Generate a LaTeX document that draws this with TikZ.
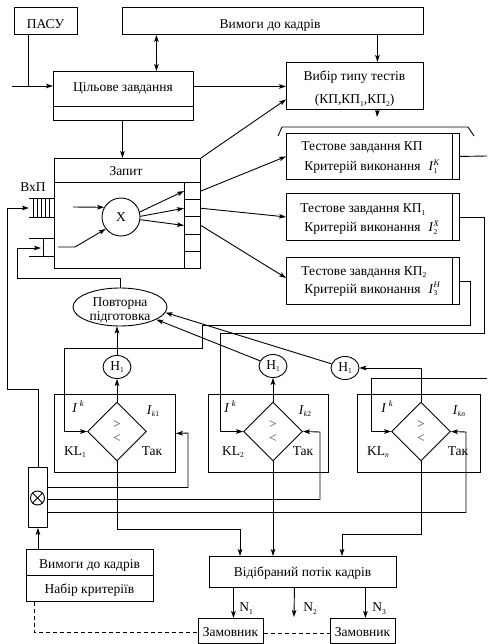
\documentclass[tikz,border=0pt]{standalone}
\usepackage{fontspec}
\setmainfont{Liberation Serif}
\usetikzlibrary{arrows.meta,shapes.geometric,calc}
\newcommand\fz{\fontsize{13.5}{15}\selectfont}
\newcommand\Ii{\textit{I}}
\newcommand\lsub[1]{\raisebox{-2.6pt}{\fontsize{7.5}{8}\selectfont #1}}
\newcommand\lsup[1]{\raisebox{5.2pt}{\fontsize{8.5}{9}\selectfont\itshape #1}}
\newcommand\Isb[2]{\Ii\rlap{\lsup{#1}}\lsub{#2}}
\begin{document}
\begin{tikzpicture}[x=1pt,y=-1pt,line width=0.9pt,
  >={Stealth[length=7pt,width=4.6pt,inset=1.6pt]},
  every node/.style={font=\fz},
  box/.style={draw,rectangle,inner sep=0pt,anchor=north west},
  tb/.style={inner sep=0pt,anchor=base},
  tbw/.style={inner sep=0pt,anchor=base west},
  hc/.style={draw,ellipse,minimum width=28pt,minimum height=23pt,inner sep=0pt},
  dia/.style={draw,diamond,minimum width=59pt,minimum height=59pt,inner sep=0pt},
  cell/.style={draw,rectangle,inner sep=0pt,anchor=north west,minimum width=16pt,minimum height=17.2pt},
  dsh/.style={dash pattern=on 4pt off 3pt}
]
\useasboundingbox (0,0) rectangle (487,644);

% ---------- top boxes
\node[box,minimum width=63pt,minimum height=27pt] (pasu) at (14,7) {};
\node[tb] at (45.5,29) {ПАСУ};
\node[box,minimum width=301pt,minimum height=27pt] (vym) at (122,7) {};
\node[tb] at (270,28.5) {Вимоги до кадрів};

\node[box,minimum width=140pt,minimum height=49pt] (cil) at (53,71) {};
\draw (53,106) -- (193,106);
\node[tb] at (123,92) {Цільове завдання};

\node[box,minimum width=137pt,minimum height=47pt] (vib) at (286,62) {};
\node[tb] at (354.5,80.5) {Вибір типу тестів};
\node[tb] at (354.5,104) {(КП,КП\lsub{1},КП\lsub{2})};

\draw (278,136) -- (282,127) -- (468,127) -- (474,136);

% ---------- test boxes
\node[box,minimum width=173pt,minimum height=46pt] (t1) at (286,133) {};
\draw (452,133) -- (452,179);
\node[tbw] at (301,151) {Тестове завдання КП};
\node[tbw] at (304,171) {Критерій виконання\hspace{8pt}\Isb{K}{1}};

\node[box,minimum width=173pt,minimum height=47pt] (t2) at (286,193) {};
\draw (452,193) -- (452,240);
\node[tbw] at (300,212.5) {Тестове завдання КП\lsub{1}};
\node[tbw] at (304,231.5) {Критерій виконання\hspace{8pt}\Isb{X}{2}};

\node[box,minimum width=173pt,minimum height=47pt] (t3) at (286,257) {};
\draw (452,257) -- (452,304);
\node[tbw] at (301,275) {Тестове завдання КП\lsub{2}};
\node[tbw] at (304,293) {Критерій виконання\hspace{8pt}\Isb{H}{3}};

% ---------- request block
\node[box,minimum width=146pt,minimum height=110pt] (zap) at (54,158) {};
\draw (54,182) -- (200,182);
\node[tb] at (126,176) {Запит};
\node[cell] (c1) at (184,182) {};
\node[cell] (c2) at (184,199.2) {};
\node[cell] (c3) at (184,216.4) {};
\node[cell] (c4) at (184,233.6) {};
\node[cell] (c5) at (184,250.8) {};
\node[draw,circle,minimum size=38pt,inner sep=0pt] (X) at (121,217) {X};

% queues
\node[tb] at (33,191.5) {ВхП};
\draw (29,198) -- (54,198) (29,217) -- (54,217);
\foreach \qx in {33.5,37.5,41.5,45.5,49.5} \draw (\qx,198) -- (\qx,217);
\draw (29,238) -- (54,238) (29,256) -- (54,256) (43,238) -- (43,256);
\coordinate (q1in) at (29,208);
\coordinate (q2in) at (41,248);

% ---------- repeat training
\node[draw,ellipse,minimum width=94pt,minimum height=38pt,inner sep=0pt] (povt) at (120,307) {};
\node[tb] at (120,306) {Повторна};
\node[tb] at (120,320.5) {підготовка};

% ---------- H circles
\node[hc] (h1) at (117,367) {H\lsub{1}};
\node[hc] (h2) at (273,366) {H\lsub{1}};
\node[hc] (h3) at (345,368) {H\lsub{1}};

% ---------- KL blocks
\node[box,minimum width=121pt,minimum height=78pt] (k1) at (54,394) {};
\node[box,minimum width=120pt,minimum height=78pt] (k2) at (208,394) {};
\node[box,minimum width=123pt,minimum height=78pt] (k3) at (357,394) {};
\node[dia] (d1) at (117,431.5) {};
\node[dia] (d2) at (273,431.5) {};
\node[dia] (d3) at (421,431.5) {};
\foreach \dx/\ix/\ia/\kx/\kl/\tx/\il in {117/78/153/75/{KL\lsub{1}}/152/{\Ii\lsub{\textit{k}1}},273/230/305/233/{KL\lsub{2}}/303/{\Ii\lsub{\textit{k}2}},421/387/459/378/{KL\lsub{\textit{n}}}/458/{\Ii\lsub{\textit{kn}}}}{
  \node[tb,text=black!75] at (\dx,428) {>};
  \node[tb,text=black!75] at (\dx,442) {<};
  \node[tb] at (\ix,412) {\Ii\,\lsup{k}};
  \node[tb] at (\ia,414) {\il};
  \node[tb] at (\kx,455) {\kl};
  \node[tb] at (\tx,455) {Так};
}

% ---------- multiplexer box
\node[box,minimum width=19pt,minimum height=60pt] (oxb) at (28,467) {};
\node[draw,circle,minimum size=14pt,inner sep=0pt] (ot) at (37.5,498) {};
\draw (ot.45) -- (ot.225) (ot.135) -- (ot.315);

% ---------- bottom boxes
\node[box,minimum width=127pt,minimum height=52pt] (vn) at (26,549) {};
\draw (26,575) -- (153,575);
\node[tb] at (89.5,568) {Вимоги до кадрів};
\node[tb] at (89.5,593) {Набір критеріїв};

\node[box,minimum width=187pt,minimum height=31pt] (otb) at (209,556) {};
\node[tb] at (302.5,576.5) {Відібраний потік кадрів};

\node[box,minimum width=65pt,minimum height=24.5pt] (zam1) at (198,618) {};
\node[tb] at (230.5,636.5) {Замовник};
\node[box,minimum width=65pt,minimum height=24.5pt] (zam2) at (330,618) {};
\node[tb] at (362.5,636.5) {Замовник};

% ---------- connectors: top
\coordinate (in0) at (12,86);
\draw[->] (in0) -- (in0 -| cil.west);
\coordinate (p0) at ([xshift=-17.5pt]pasu.south);
\draw (p0) -- (p0 |- in0);
\coordinate (q0) at ([xshift=33pt]cil.north);
\draw[<->] (q0 |- vym.south) -- (q0);
\coordinate (q1) at ([xshift=22.5pt]vib.north);
\draw[->] (q1 |- vym.south) -- (q1);
\coordinate (q1b) at (377,117);
\draw[->] (q1 |- vib.south) -- (q1b);
\coordinate (ce) at ([yshift=9.5pt]cil.east);
\draw[->] (ce) -- (ce -| vib.west);
\coordinate (q2) at ([xshift=-1pt]cil.south);
\draw[->] (q2) -- (q2 |- zap.north);
\draw[->] (zap.north east) -- ([yshift=-13.5pt]vib.west);

% inside request
\coordinate (xa) at (73,207);
\draw[->] (xa) -- (X.150);
\coordinate (xb1) at (58,247);
\coordinate (xb2) at (75,247);
\draw[->] (xb1) -- (xb2) -- (X.218);
\draw[->] (X.15) -- (c1.west);
\draw[->] (X.2) -- (c2.west);
\draw[->] (X.-8) -- (c3.west);
\draw[->] (c1.east) -- (t1.west);
\draw[->] (c2.east) -- (t2.west);
\draw[->] (c3.east) -- ([yshift=3pt]t3.west);

% feedback into queues
\coordinate (w1) at (7,389);
\draw[->] (oxb.north) |- (w1) |- (q1in);
\coordinate (w2) at (17,278);
\draw[->] (povt.north) |- (w2) |- (q2in);

% test boxes to comparators
\coordinate (rr) at (487,156);
\draw (t1.east) -- (rr);
\coordinate (r2) at (487,378);
\coordinate (e1) at (371,378);
\draw[->] (r2) -- (e1) |- (d3.west);
\coordinate (e2a) at (484,333);
\coordinate (e2b) at (220,333);
\draw[->] (t2.east) -| (e2a) -- (e2b) |- (d2.west);
\coordinate (e3a) at (470,325);
\coordinate (e3b) at (202,325);
\coordinate (e3c) at (64,348);
\draw[->] (t3.east) -| (e3a) -- (e3b) |- (e3c) |- (d1.west);

% comparators up
\draw[->] (d1.north) -- (h1.south);
\draw[->] (h1.north) -- (h1.north |- povt.south);
\draw[->] (d2.north) -- (h2.south);
\draw[->] (d3.north) |- (h3.east);
\draw[->] (h2) -- (povt.-19);
\draw[->] (h3) -- (povt.-7);

% multiplexer lines
\coordinate (g1) at (188,433);
\coordinate (g2) at (320,432);
\coordinate (g3) at (466,432);
\draw[->] ([yshift=10pt]oxb.east) -| (g1) -- (k1.east);
\draw[->] ([yshift=-2pt]oxb.east) -| (g2) -- (d2.east);
\draw[->] ([yshift=-15pt]oxb.east) -| (g3) -- (d3.east);
\draw[->] (oxb.south |- vn.north) -- (oxb.south);

% comparators down
\coordinate (m1) at (240,529);
\coordinate (m3) at (342,534);
\draw[->] (d1.south) |- (m1) -- (m1 |- otb.north);
\draw[->] (d2.south) -- (d2.south |- otb.north);
\draw[->] (d3.south) |- (m3) -- (m3 |- otb.north);

% outputs
\coordinate (n1) at ([xshift=-69.5pt]otb.south);
\coordinate (n2) at ([xshift=-8.5pt]otb.south);
\coordinate (n3) at ([xshift=62.5pt]otb.south);
\coordinate (n2e) at (294,617);
\draw[->] (n1) -- (n1 |- zam1.north);
\draw[->] (n2) -- (n2e);
\draw[->] (n3) -- (n3 |- zam2.north);
\node[tbw] at (239,611.5) {N\lsub{1}};
\node[tbw] at (303,611.5) {N\lsub{2}};
\node[tbw] at (372,611.5) {N\lsub{3}};

\draw[dsh] ([yshift=-3pt]zam1.east) -- ([yshift=-3pt]zam2.west);
\coordinate (vb) at ([xshift=-55.5pt]vn.south);
\draw[dsh] (vb) |- ([yshift=-2pt]zam1.west);
\end{tikzpicture}
\end{document}
